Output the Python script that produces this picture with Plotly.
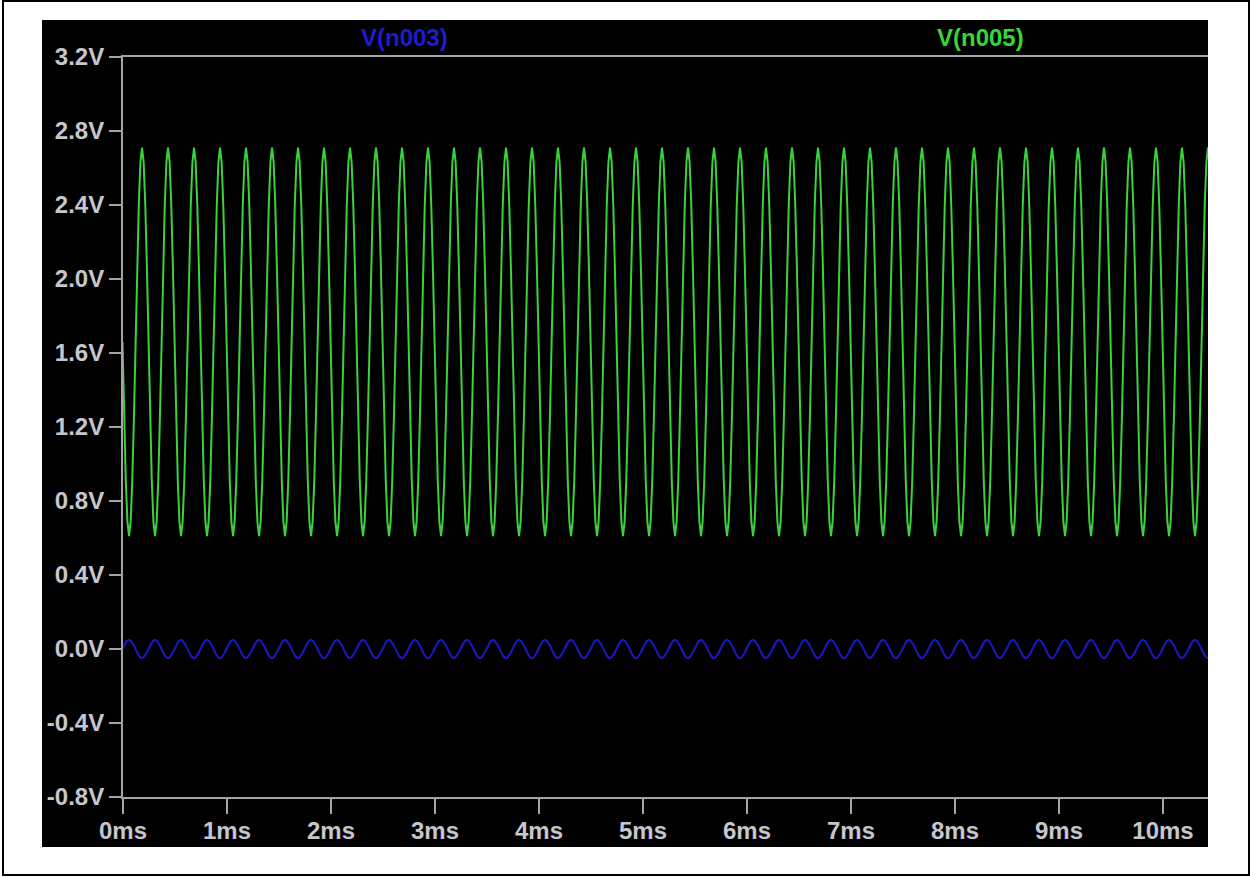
import numpy as np
import plotly.graph_objects as go

# --- waveform data -------------------------------------------------------
# One steady-state cycle of each node voltage, sampled 16 times per period,
# starting at the trough of V(n005) (which is the crest of V(n003)).
period_ms = 0.25            # 4 kHz
first_trough_ms = 0.058     # first V(n005) minimum
t_end_ms = 10.433           # end of the transient run

v_n005_cycle = [0.61, 0.69, 0.91, 1.25, 1.66, 2.06, 2.40, 2.63,
                2.71, 2.63, 2.40, 2.06, 1.66, 1.25, 0.91, 0.69]
v_n003_cycle = [0.049, 0.045, 0.035, 0.019, 0.0, -0.019, -0.035, -0.045,
                -0.049, -0.045, -0.035, -0.019, 0.0, 0.019, 0.035, 0.045]

y_tick_vals = [3.2, 2.8, 2.4, 2.0, 1.6, 1.2, 0.8, 0.4, 0.0, -0.4, -0.8]
y_tick_text = ["3.2V", "2.8V", "2.4V", "2.0V", "1.6V", "1.2V", "0.8V",
               "0.4V", "0.0V", "-0.4V", "-0.8V"]
x_tick_vals = [0, 1, 2, 3, 4, 5, 6, 7, 8, 9, 10]
x_tick_text = ["0ms", "1ms", "2ms", "3ms", "4ms", "5ms", "6ms", "7ms",
               "8ms", "9ms", "10ms"]

# Time base: the per-cycle samples repeat every period
n_per = len(v_n005_cycle)
dt = period_ms / n_per
k = np.arange(-4, int(np.ceil((t_end_ms - first_trough_ms) / dt)) + 2)
t = first_trough_ms + k * dt
green = [v_n005_cycle[i % n_per] for i in k]
blue = [v_n003_cycle[i % n_per] for i in k]

GREEN = "#3cd23c"
BLUE = "#1a1ac4"
AXIS = "#a4a4a4"
LABEL = "#c6c6cc"
FONT = "Liberation Sans"

fig = go.Figure()
fig.add_trace(go.Scatter(x=t, y=blue, mode="lines",
                         line=dict(color=BLUE, width=2), name="V(n003)"))
fig.add_trace(go.Scatter(x=t, y=green, mode="lines",
                         line=dict(color=GREEN, width=2), name="V(n005)"))

# Plot-area geometry in pixels (used to place panel and frame)
L, R, T, B = 123, 1208, 57, 797
W, H = R - L, B - T


def px(x):
    return (x - L) / W


def py(y):
    return (B - y) / H


shapes = [
    # outer frame
    dict(type="rect", xref="paper", yref="paper",
         x0=px(3), x1=px(1249), y0=py(875), y1=py(1),
         line=dict(color="black", width=2), fillcolor="rgba(0,0,0,0)",
         layer="below"),
    # black waveform panel
    dict(type="rect", xref="paper", yref="paper",
         x0=px(42), x1=px(1208), y0=py(847), y1=py(20),
         line=dict(width=0), fillcolor="black", layer="below"),
]

annotations = [
    dict(text="V(n003)", x=px(405), y=py(37), xref="paper", yref="paper",
         showarrow=False, xanchor="center", yanchor="middle",
         font=dict(family=FONT, size=24, color="#1c1cd0", weight="bold")),
    dict(text="V(n005)", x=px(980), y=py(37), xref="paper", yref="paper",
         showarrow=False, xanchor="center", yanchor="middle",
         font=dict(family=FONT, size=24, color="#34d834", weight="bold")),
]

fig.update_layout(
    width=1250, height=877,
    margin=dict(l=L, r=1250 - R, t=T, b=877 - B, pad=0),
    paper_bgcolor="white", plot_bgcolor="black",
    showlegend=False,
    shapes=shapes, annotations=annotations,
    font=dict(family=FONT, size=24, color=LABEL, weight="bold"),
)
fig.update_xaxes(
    range=[0, t_end_ms], tickvals=x_tick_vals, ticktext=x_tick_text,
    showgrid=False, zeroline=False,
    showline=True, linecolor=AXIS, linewidth=2, mirror=True,
    ticks="outside", ticklen=15, tickwidth=2, tickcolor=AXIS,
    ticklabelstandoff=-4,
    tickfont=dict(family=FONT, size=24, color=LABEL, weight="bold"),
)
fig.update_yaxes(
    range=[-0.8, 3.2], tickvals=y_tick_vals, ticktext=y_tick_text,
    showgrid=False, zeroline=False,
    showline=True, linecolor=AXIS, linewidth=2, mirror=False,
    ticks="outside", ticklen=12, tickwidth=2, tickcolor=AXIS,
    tickfont=dict(family=FONT, size=24, color=LABEL, weight="bold"),
)

fig.write_html("out.html")
